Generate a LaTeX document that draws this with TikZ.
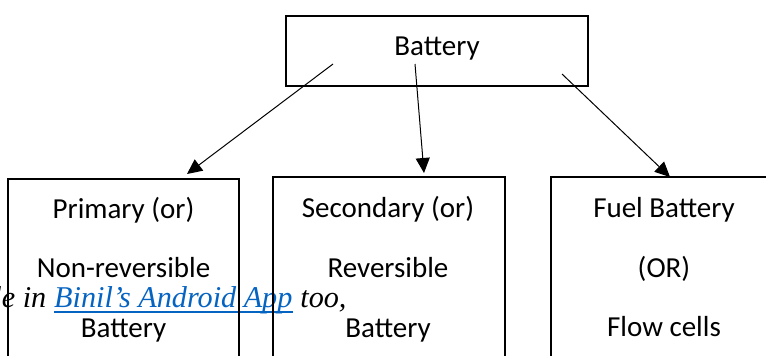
\documentclass[tikz,border=0pt]{standalone}
\usepackage{fontspec}
\setmainfont{Carlito}
\newfontfamily\tnr{Liberation Serif}
\usetikzlibrary{arrows.meta}
\definecolor{linkblue}{HTML}{0563C1}
\tikzset{
  boxnode/.style={draw, line width=1.4pt, inner sep=0pt, outer sep=0pt, anchor=north west},
  lbl/.style={inner sep=0pt, anchor=base, font=\fontsize{29}{34}\selectfont},
  conn/.style={line width=1pt, -{Triangle[length=15pt,width=14pt]}},
  overlay/.style={inner sep=0pt, font=\tnr\itshape\fontsize{30.2}{36}\selectfont}
}
\begin{document}
\begin{tikzpicture}[x=1pt,y=-1pt]
\useasboundingbox (0,0) rectangle (766,356);
\clip (0,0) rectangle (766,356);
\fill[white] (0,0) rectangle (766,356);

% overlay text
\node[overlay, anchor=base west, text=linkblue] (link) at (54,307) {Binil’s Android App};
\node[overlay, anchor=base east] (pre) at ([xshift=-7.5pt]link.base west) {le in};
\node[overlay, anchor=base west] (post) at ([xshift=7.5pt]link.base east) {too,};
\draw[linkblue, line width=1.4pt] ([yshift=-5pt]link.base west) -- ([yshift=-5pt]link.base east);

% boxes
\node[boxnode, minimum width=302pt, minimum height=70pt] (top) at (286,16) {};
\node[boxnode, minimum width=231pt, minimum height=220pt] (pri) at (8,179) {};
\node[boxnode, minimum width=232pt, minimum height=220pt] (sec) at (273,177) {};
\node[boxnode, minimum width=250pt, minimum height=220pt] (fuel) at (551,177) {};

% labels
\node[lbl] (tl) at (437,55) {Battery};
\node[lbl] (p1) at (123.5,218) {Primary (or)};
\node[lbl] (p2) at (123.5,277) {Non-reversible};
\node[lbl] (p3) at (123.5,337) {Battery};
\node[lbl] (s1) at (388,217) {Secondary (or)};
\node[lbl] (s2) at (388,277) {Reversible};
\node[lbl] (s3) at (388,337) {Battery};
\node[lbl] (f1) at (664,217) {Fuel Battery};
\node[lbl] (f2) at (664,277) {(OR)};
\node[lbl] (f3) at (664,336) {Flow cells};

% connectors
\coordinate (a1) at (333,64);
\coordinate (b1) at (187,174);
\coordinate (a2) at (415,64);
\coordinate (b2) at (424,173);
\coordinate (a3) at (562,74);
\coordinate (b3) at (670,177);
\draw[conn] (a1) -- (b1);
\draw[conn] (a2) -- (b2);
\draw[conn] (a3) -- (b3);
\end{tikzpicture}
\end{document}
